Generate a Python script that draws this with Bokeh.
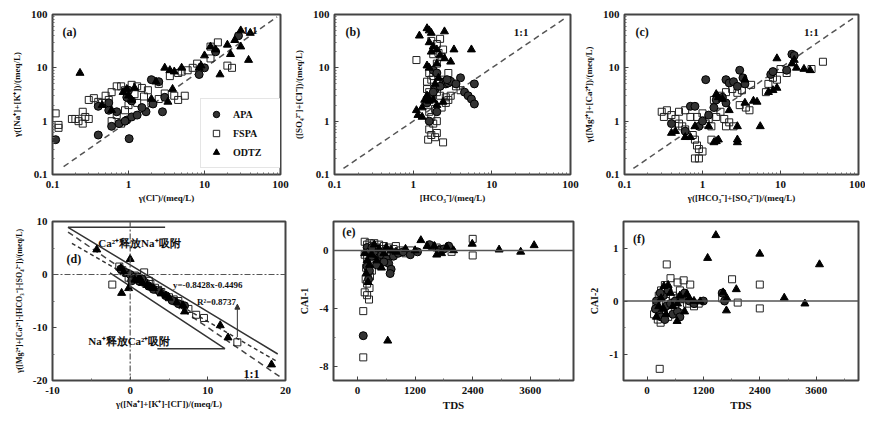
from bokeh.plotting import figure
from bokeh.layouts import column, row
from bokeh.models import (Range1d, FixedTicker, CustomJSTickFormatter, Label, Legend,
                          LegendItem, Arrow, NormalHead, Span)
from bokeh.embed import file_html
from bokeh.resources import INLINE

# ---------------- data ----------------
# (a) gamma(Cl-) vs gamma(Na+ + K+)
a_apa_x = [0.11, 0.40, 1.02, 0.55, 0.60, 0.75, 0.95, 1.10, 0.95, 1.00, 1.10, 1.70, 2.10, 2.50, 3.00, 2.80, 0.40, 0.55, 8.50, 10.0, 14.0, 28.0, 1.30, 1.50, 2.00, 0.90, 0.70]
a_apa_y = [0.45, 0.55, 0.47, 1.60, 0.80, 0.90, 1.05, 1.20, 2.80, 3.80, 2.40, 1.50, 2.10, 5.50, 2.80, 1.50, 1.90, 2.20, 7.50, 10.0, 20.0, 40.0, 1.30, 1.80, 6.00, 1.00, 1.50]
a_fspa_x = [0.11, 0.12, 0.12, 0.18, 0.20, 0.22, 0.25, 0.27, 0.30, 0.25, 0.30, 0.35, 0.40, 0.45, 0.50, 0.55, 0.60, 0.70, 0.80, 0.90, 1.10, 1.30, 1.50, 1.20, 1.00, 0.90, 0.70, 0.60, 0.80, 1.30, 1.60, 2.00, 2.50, 3.00, 4.00, 4.50, 5.50, 3.50, 4.50, 6.00, 7.00, 8.00, 12.0, 15.0, 23.0, 20.0, 12.0, 5.00, 2.50, 1.80]
a_fspa_y = [1.40, 0.85, 0.75, 1.10, 1.10, 1.00, 0.90, 1.20, 1.10, 1.50, 2.50, 2.70, 2.30, 2.20, 3.00, 2.50, 3.50, 4.50, 4.50, 3.80, 4.80, 4.50, 4.20, 3.20, 2.00, 1.60, 1.30, 1.00, 0.90, 2.20, 2.90, 2.20, 2.60, 3.30, 3.00, 2.50, 3.00, 7.00, 8.00, 9.00, 10.0, 12.0, 25.0, 30.0, 10.0, 11.0, 15.0, 8.50, 5.00, 3.80]
a_odtz_x = [0.23, 0.45, 0.60, 0.85, 0.95, 1.00, 1.10, 1.20, 2.00, 2.30, 3.00, 3.50, 3.30, 3.80, 4.00, 8.50, 9.00, 10.0, 12.0, 14.0, 16.0, 20.0, 22.0, 25.0, 30.0, 38.0, 40.0, 30.0, 5.00]
a_odtz_y = [8.0, 2.0, 1.6, 3.5, 4.0, 3.0, 2.5, 4.2, 2.6, 5.5, 10.0, 9.0, 2.3, 4.0, 8.5, 10.0, 11.0, 17.0, 25.0, 22.0, 7.5, 27.0, 18.0, 33.0, 25.0, 14.0, 45.0, 50.0, 10.0]

# (b) [HCO3-] vs [SO4 2-]+[Cl-]
b_apa_x = [2.5, 2.6, 2.8, 3.0, 2.7, 4.0, 3.5, 4.5, 5.0, 5.5, 6.0, 6.0, 1.8, 2.0, 1.9, 2.2, 1.5, 1.7, 2.0, 1.6, 1.8]
b_apa_y = [5.5, 5.0, 5.2, 5.6, 6.0, 6.5, 5.0, 3.5, 3.0, 2.6, 2.1, 5.0, 9.0, 8.0, 4.0, 4.5, 2.2, 2.8, 1.5, 1.0, 3.5]
b_fspa_x = [1.1, 2.2, 1.7, 2.0, 1.8, 2.1, 2.3, 1.6, 1.8, 1.7, 1.5, 1.6, 1.7, 2.0, 2.2, 2.6, 2.8, 3.0, 1.6, 1.7, 1.8, 1.6, 1.7, 1.55, 1.9, 2.0, 2.4, 2.0, 1.9, 2.3, 2.6, 1.5, 2.1, 2.4, 2.8, 3.5, 4.0, 2.0, 2.4]
b_fspa_y = [14.0, 35.0, 32.0, 28.0, 18.0, 19.0, 16.0, 8.0, 7.0, 6.0, 4.0, 3.5, 2.8, 3.5, 3.0, 2.8, 2.5, 3.0, 1.5, 1.2, 0.9, 0.7, 0.55, 0.45, 0.5, 0.6, 0.4, 1.0, 1.7, 1.8, 2.2, 5.5, 5.0, 6.0, 8.0, 4.5, 3.8, 12.0, 22.0]
b_odtz_x = [1.5, 1.6, 1.7, 2.5, 1.2, 1.6, 1.8, 2.0, 3.3, 5.5, 1.7, 2.2, 1.5, 1.6, 2.0, 2.5, 3.0, 1.1, 1.15, 1.3, 1.4, 1.5, 1.6, 2.0, 2.4, 1.9, 2.1, 1.3, 1.8]
b_odtz_y = [55.0, 50.0, 45.0, 48.0, 40.0, 30.0, 25.0, 22.0, 22.0, 22.0, 20.0, 17.0, 11.0, 10.0, 12.0, 15.0, 13.0, 1.6, 1.3, 1.2, 2.5, 3.0, 2.4, 2.0, 2.3, 5.0, 6.5, 1.8, 2.5]

# (c) [HCO3-]+[SO4 2-] vs [Mg2+]+[Ca2+]
c_apa_x = [0.4, 0.7, 0.8, 0.9, 1.1, 1.5, 1.8, 2.0, 2.2, 2.5, 3.0, 3.3, 3.5, 2.8, 7.5, 8.0, 14.0, 15.0, 12.0, 1.4, 1.2, 2.0, 1.0, 0.6]
c_apa_y = [0.9, 1.9, 1.9, 0.8, 6.0, 2.5, 2.8, 6.0, 5.2, 5.5, 9.0, 6.5, 5.0, 4.5, 7.5, 8.5, 18.0, 17.0, 9.0, 1.8, 1.3, 2.2, 1.0, 0.65]
c_fspa_x = [0.30, 0.32, 0.35, 0.40, 0.45, 0.50, 0.55, 0.60, 0.50, 0.60, 0.70, 0.75, 0.80, 0.85, 0.90, 0.80, 0.90, 1.00, 1.10, 1.20, 1.30, 1.50, 1.70, 1.90, 2.00, 2.20, 2.50, 1.30, 1.40, 1.70, 2.00, 2.40, 2.80, 3.20, 3.00, 3.60, 4.00, 4.20, 6.50, 7.00, 8.00, 9.00, 10.0, 12.0, 35.0, 25.0, 1.00, 0.85]
c_fspa_y = [1.5, 1.2, 1.6, 1.3, 1.1, 0.9, 0.8, 0.7, 1.5, 1.6, 1.2, 0.55, 0.45, 0.35, 0.30, 0.20, 0.20, 0.27, 0.9, 1.1, 0.8, 1.2, 1.5, 1.1, 0.8, 0.95, 0.8, 0.45, 2.5, 3.0, 3.5, 4.0, 3.4, 3.8, 2.0, 1.8, 1.6, 4.8, 3.5, 5.0, 6.5, 6.0, 9.5, 8.0, 13.0, 9.5, 1.4, 1.2]
c_odtz_x = [0.4, 0.45, 0.6, 0.7, 0.8, 1.2, 1.4, 1.5, 1.6, 2.8, 2.8, 2.8, 5.5, 4.5, 5.0, 3.5, 1.6, 1.8, 2.2, 7.0, 8.0, 9.0, 9.0, 14.0, 15.0, 16.0, 20.0, 24.0, 3.5, 1.5]
c_odtz_y = [0.6, 0.65, 0.5, 0.5, 0.8, 0.8, 0.4, 0.42, 0.45, 0.8, 0.45, 0.4, 0.8, 2.4, 2.3, 2.2, 2.8, 2.6, 1.6, 3.5, 3.8, 4.2, 15.0, 12.0, 14.0, 10.0, 9.5, 9.0, 6.0, 3.2]

# (d) [Na+]+[K+]-[Cl-] vs [Mg2+]+[Ca2+]-[HCO3-]-[SO4 2-]
d_apa_x = [-1.2, -0.6, 0.0, 0.4, 0.8, 1.2, 1.8, 2.4, 3.0, 3.8, 4.6, 5.4, 6.2, 7.0, 0.2, 1.5]
d_apa_y = [1.0, 0.4, 0.0, -0.6, -0.6, -1.3, -1.4, -2.2, -2.8, -3.2, -4.0, -4.9, -5.5, -5.9, -1.2, -0.8]
d_fspa_x = [-2.3, -1.0, -0.5, 0.2, 0.6, 1.0, 1.5, 2.0, 2.6, 3.2, 4.0, 5.0, 6.2, 7.5, 8.5, 9.5, 13.8, -1.4, -0.2, 0.9, 3.6, 5.6, 1.8, 2.4]
d_fspa_y = [-1.9, 0.8, 0.3, -0.4, -0.2, -0.9, -1.0, -1.7, -1.8, -2.5, -3.3, -4.3, -5.0, -6.5, -7.6, -8.2, -12.8, 1.5, -0.6, -0.4, -2.9, -4.7, 0.4, -1.2]
d_odtz_x = [-4.3, 0.0, -1.1, -0.2, 0.6, 1.0, 1.6, 2.2, 3.0, 4.0, 5.0, 6.0, 6.8, 7.0, 11.6, 12.6, 18.2, 1.2, -0.8, -1.2, 2.6, 4.6]
d_odtz_y = [4.7, 2.9, -3.5, -2.6, -1.0, -1.1, -1.6, -2.0, -2.6, -3.6, -4.4, -5.3, -5.8, -7.0, -9.6, -11.9, -17.0, -0.6, 0.4, 1.2, -2.4, -4.0]
d_reg_slope = -0.8428
d_reg_icpt = -0.4496

# (e) TDS vs CAI-1
e_apa_x = [120, 200, 250, 300, 350, 450, 500, 600, 650, 700, 680, 750, 850, 950, 1100, 1250, 1700, 1800, 200, 250, 230, 400, 550, 1500, 1900, 300]
e_apa_y = [-5.9, 0.2, -0.1, -0.4, -0.2, -0.5, -0.3, -0.6, -0.9, -1.3, -1.6, -0.4, -0.2, -0.1, -0.3, -0.1, 0.0, 0.1, -1.1, -1.4, -2.0, -1.0, -0.8, 0.4, 0.3, 0.2]
e_fspa_x = [150, 200, 250, 300, 350, 400, 450, 500, 550, 600, 650, 700, 750, 800, 900, 1000, 150, 200, 250, 180, 220, 260, 170, 200, 250, 150, 200, 240, 120, 120, 2400, 2400, 1960, 1650, 1750, 1550, 1100, 350, 400, 300]
e_fspa_y = [0.6, 0.4, 0.5, 0.3, 0.5, 0.2, 0.4, 0.1, 0.3, 0.0, 0.2, -0.1, 0.1, 0.3, 0.0, -0.2, -0.3, -0.6, -0.9, -1.2, -1.5, -1.8, -2.0, -2.3, -2.6, -2.9, -3.1, -3.4, -4.2, -7.4, 0.8, -0.35, -0.1, 0.2, 0.1, 0.3, 0.0, -0.8, -0.4, -1.4]
e_odtz_x = [630, 1320, 2390, 2950, 3400, 3680, 1860, 150, 200, 250, 180, 220, 300, 350, 450, 550, 600, 700, 800, 1000, 1200, 1600, 1650, 1750, 2000, 1450, 400, 500]
e_odtz_y = [-6.25, 0.7, 0.45, 0.05, -0.1, 0.35, 0.2, -0.2, -0.7, -1.0, -1.6, -2.2, -0.3, 0.4, 0.1, -0.2, 0.2, 0.0, -0.1, 0.1, 0.0, 0.3, -0.3, -0.2, 0.0, 0.3, -0.7, -1.2]

# (f) TDS vs CAI-2
f_apa_x = [200, 250, 300, 350, 400, 450, 500, 550, 600, 650, 700, 750, 800, 900, 1000, 1200, 1600, 1650, 180, 280, 380]
f_apa_y = [0.0, -0.2, -0.3, 0.1, -0.1, 0.2, -0.05, -0.25, 0.0, -0.2, -0.3, 0.05, 0.15, 0.0, -0.05, 0.0, 0.15, 0.0, -0.15, 0.15, -0.35]
f_fspa_x = [420, 270, 500, 780, 920, 1810, 2400, 2400, 1930, 290, 200, 250, 300, 350, 400, 450, 550, 600, 650, 700, 750, 850, 1000, 1100, 1600, 150, 230, 380, 650, 500]
f_fspa_y = [0.69, -1.28, 0.43, 0.39, 0.31, 0.41, 0.31, -0.14, -0.03, -0.41, -0.1, 0.1, 0.2, -0.2, 0.0, -0.3, 0.1, -0.15, 0.05, 0.2, -0.1, -0.05, -0.1, -0.05, 0.05, -0.25, -0.35, 0.3, 0.35, -0.2]
f_odtz_x = [1465, 1290, 2400, 3670, 2920, 3360, 1900, 1690, 1620, 1130, 640, 360, 850, 250, 300, 400, 450, 500, 550, 650, 700, 800, 900, 1000, 1700, 200, 350]
f_odtz_y = [1.24, 0.81, 0.89, 0.69, 0.06, -0.05, 0.22, -0.18, 0.16, -0.01, -0.38, 0.28, 0.13, -0.1, 0.05, -0.25, 0.3, 0.15, -0.1, -0.05, 0.1, -0.2, 0.05, 0.0, 0.05, -0.3, -0.15]

LOG_TICKS = [0.1, 1, 10, 100]
LOG_MINOR = [0.2, 0.3, 0.4, 0.5, 0.6, 0.7, 0.8, 0.9, 2, 3, 4, 5, 6, 7, 8, 9,
             20, 30, 40, 50, 60, 70, 80, 90]

FONT = "Liberation Serif"
INK = "#111111"


def make_fig(xr, yr, xlog, ylog, w, h, bl, br, bt, bb, xlabel, ylabel,
             xticks, yticks, xminor, yminor, xls=9, yls=9):
    p = figure(width=w, height=h,
               x_range=Range1d(*xr), y_range=Range1d(*yr),
               x_axis_type="log" if xlog else "linear",
               y_axis_type="log" if ylog else "linear",
               output_backend="svg", toolbar_location=None,
               min_border_left=bl, min_border_right=br,
               min_border_top=bt, min_border_bottom=bb)
    p.grid.visible = False
    p.outline_line_color = "#444444"
    p.outline_line_width = 2
    p.background_fill_color = "white"
    for ax, lab, ticks, minor, ls in ((p.xaxis[0], xlabel, xticks, xminor, xls),
                                      (p.yaxis[0], ylabel, yticks, yminor, yls)):
        ax.ticker = FixedTicker(ticks=ticks, minor_ticks=minor)
        ax.formatter = CustomJSTickFormatter(code="return String(tick);")
        ax.axis_label = lab
        ax.axis_label_text_font = FONT
        ax.axis_label_text_font_style = "bold"
        ax.axis_label_text_font_size = f"{ls}px"
        ax.axis_label_text_color = INK
        ax.major_label_text_font = FONT
        ax.major_label_text_font_style = "bold"
        ax.major_label_text_font_size = "11px"
        ax.major_label_text_color = INK
        ax.axis_line_color = None
        ax.major_tick_in = 4
        ax.major_tick_out = 0
        ax.minor_tick_in = 2
        ax.minor_tick_out = 0
        ax.major_tick_line_color = "#444444"
        ax.minor_tick_line_color = "#666666"
    p.xaxis[0].major_label_standoff = 6
    p.xaxis[0].axis_label_standoff = 2
    p.yaxis[0].major_label_standoff = 5
    p.yaxis[0].axis_label_standoff = 6
    return p


def add_points(p, ax_, ay_, fx, fy, ox, oy):
    rf = p.scatter(fx, fy, marker="square", size=7, fill_color="white",
                   fill_alpha=0.0, line_color="#222222", line_width=1)
    ra = p.scatter(ax_, ay_, marker="circle", size=8, fill_color="#333333",
                   line_color="#000000", line_width=1)
    ro = p.scatter(ox, oy, marker="triangle", size=8, fill_color="#000000",
                   line_color="#000000", line_width=1)
    return ra, rf, ro


def add_text(p, x, y, t, size=11, align="left"):
    p.add_layout(Label(x=x, y=y, text=t, text_font=FONT, text_font_style="bold",
                       text_font_size=f"{size}px", text_color=INK,
                       text_align=align, text_baseline="middle"))


def one_to_one(p, lo, hi):
    p.line([lo, hi], [lo, hi], line_dash="6 4", line_color="#555555", line_width=1.5)


# ---------------- row 1 ----------------
pa = make_fig((0.1, 100), (0.1, 100), True, True, 290, 212, 52, 10, 14, 38,
              "γ(Cl⁻)/(meq/L)", "γ([Na⁺]+[K⁺])/(meq/L)",
              LOG_TICKS, LOG_TICKS, LOG_MINOR, LOG_MINOR)
one_to_one(pa, 0.14, 90)
ra, rf, ro = add_points(pa, a_apa_x, a_apa_y, a_fspa_x, a_fspa_y, a_odtz_x, a_odtz_y)
add_text(pa, 0.135, 47, "(a)", 12)
add_text(pa, 32, 52, "1:1", 11)
leg = Legend(items=[LegendItem(label="APA", renderers=[ra]),
                    LegendItem(label="FSPA", renderers=[rf]),
                    LegendItem(label="ODTZ", renderers=[ro])],
             location=(148, 6), label_text_font=FONT, label_text_font_style="bold",
             label_text_font_size="10px", label_text_color=INK,
             glyph_width=16, glyph_height=16, label_height=16, spacing=3,
             padding=7, label_standoff=9, label_width=42,
             border_line_color="#cccccc",
             border_line_width=1, background_fill_alpha=1.0)
pa.add_layout(leg)

pb = make_fig((0.1, 100), (0.1, 100), True, True, 290, 212, 43, 10, 14, 38,
              "[HCO₃⁻]/(meq/L)", "([SO₄²⁻]+[Cl⁻])/(meq/L)",
              LOG_TICKS, LOG_TICKS, LOG_MINOR, LOG_MINOR)
one_to_one(pb, 0.13, 90)
add_points(pb, b_apa_x, b_apa_y, b_fspa_x, b_fspa_y, b_odtz_x, b_odtz_y)
add_text(pb, 0.138, 47, "(b)", 12)
add_text(pb, 19, 47, "1:1", 11)

pc = make_fig((0.1, 100), (0.1, 100), True, True, 285, 212, 43, 7, 14, 38,
              "γ([HCO₃⁻]+[SO₄²⁻])/(meq/L)", "γ([Mg²⁺]+[Ca²⁺])/(meq/L)",
              LOG_TICKS, LOG_TICKS, LOG_MINOR, LOG_MINOR)
one_to_one(pc, 0.13, 90)
add_points(pc, c_apa_x, c_apa_y, c_fspa_x, c_fspa_y, c_odtz_x, c_odtz_y)
add_text(pc, 0.138, 47, "(c)", 12)
add_text(pc, 20, 47, "1:1", 11)

# ---------------- row 2 ----------------
pd_ = make_fig((-10, 20), (-20, 10), False, False, 292, 203, 52, 7, 9, 35,
               "γ([Na⁺]+[K⁺]-[Cl⁻])/(meq/L)", "γ([Mg²⁺]+[Ca²⁺]-[HCO₃⁻]-[SO₄²⁻])/(meq/L)",
               [-10, 0, 10, 20], [-20, -10, 0, 10], [-5, 5, 15], [-15, -5, 5], 9, 8)
pd_.add_layout(Span(location=0, dimension="width", line_dash="6 2 2 2",
                    line_color="#555555", line_width=1.2))
pd_.add_layout(Span(location=0, dimension="height", line_dash="6 2 2 2",
                    line_color="#555555", line_width=1.2))
pd_.line([-8, 19.6], [8, -19.6], line_dash="6 4", line_color="#444444", line_width=1.5)
rx = [-7.5, 18.8]
pd_.line(rx, [d_reg_slope * v + d_reg_icpt for v in rx], line_dash="4 3",
         line_color="#333333", line_width=1.5)
pd_.line([4.5, -8, 19], [8.9, 8.9, -15], line_color="#333333", line_width=1.5)
pd_.line([-2.6, 12.2, 3.5], [0.3, -14, -14], line_color="#333333", line_width=1.5)
pd_.add_layout(Arrow(x_start=13.8, y_start=-11.8, x_end=13.8, y_end=-5.6,
                     line_color="#333333", line_width=1,
                     end=NormalHead(size=5, fill_color="#333333", line_color="#333333")))
add_points(pd_, d_apa_x, d_apa_y, d_fspa_x, d_fspa_y, d_odtz_x, d_odtz_y)
add_text(pd_, -8.2, 3.0, "(d)", 12)
add_text(pd_, -4.1, 5.9, "Ca²⁺释放Na⁺吸附", 11)
add_text(pd_, 5.5, -1.9, "y=-0.8428x-0.4496", 9)
add_text(pd_, 8.6, -5.1, "R²=0.8737", 9)
add_text(pd_, -5.4, -12.6, "Na⁺释放Ca²⁺吸附", 11)
add_text(pd_, 14.6, -18.8, "1:1", 12)

pe = make_fig((-500, 4500), (-9, 2), False, False, 288, 203, 41, 7, 9, 35,
              "TDS", "CAI-1", [0, 1200, 2400, 3600], [-8, -4, 0],
              [600, 1800, 3000, 4200], [-6, -2], 11, 10)
pe.add_layout(Span(location=0, dimension="width", line_color="#555555", line_width=1.5))
add_points(pe, e_apa_x, e_apa_y, e_fspa_x, e_fspa_y, e_odtz_x, e_odtz_y)
add_text(pe, -320, 1.3, "(e)", 12)

pf = make_fig((-500, 4500), (-1.5, 1.5), False, False, 285, 203, 43, 7, 9, 35,
              "TDS", "CAI-2", [0, 1200, 2400, 3600], [-1, 0, 1],
              [600, 1800, 3000, 4200], [-0.5, 0.5], 11, 10)
pf.add_layout(Span(location=0, dimension="width", line_color="#555555", line_width=1.5))
add_points(pf, f_apa_x, f_apa_y, f_fspa_x, f_fspa_y, f_odtz_x, f_odtz_y)
add_text(pf, -300, 1.17, "(f)", 12)

layout = column(row(pa, pb, pc, spacing=0), row(pd_, pe, pf, spacing=0), spacing=0)
open("out.html", "w").write(file_html(layout, INLINE))
